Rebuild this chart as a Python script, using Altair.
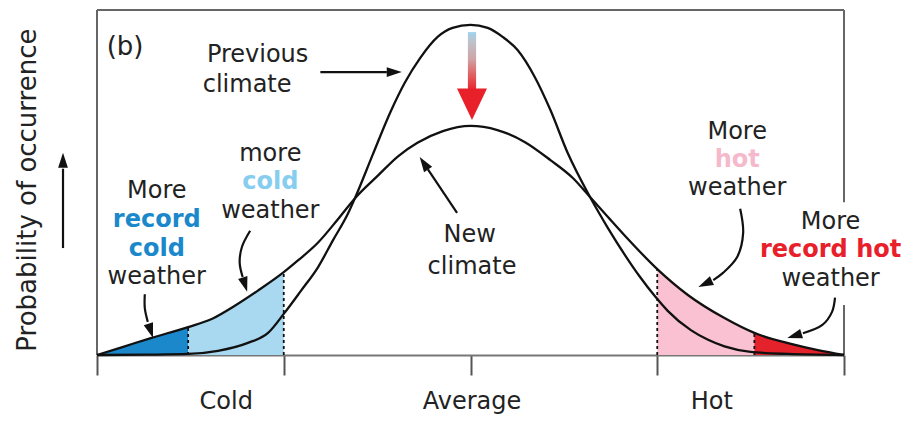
import altair as alt
import pandas as pd

# ---------------- data ----------------
# Previous climate (narrow, tall bell curve)
prev_x = [0, 6.8, 12.2, 16.2, 20.2, 22.9, 25.1, 27.3, 29.6, 31.6, 33.6, 34.6, 36.9,
          39.3, 41.2, 43.3, 45.6, 47.6, 50, 52.3, 54.3, 56.3, 58.6, 60.7, 63.0, 66.0,
          68.4, 70.7, 72.7, 74.7, 76.4, 79.5, 81.8, 84.0, 87.5, 92.5, 100]
prev_y = [0, 0.1, 0.3, 1.2, 3.5, 6.4, 12.2, 18.6, 25.5, 33.3, 41.0, 45.8, 58.0,
          70.5, 78.9, 86.2, 92.2, 94.8, 95.7, 94.8, 92.2, 88.4, 80.6, 71.0, 58.6, 45.8,
          36.8, 28.9, 22.6, 17.0, 12.8, 7.2, 4.4, 2.5, 0.9, 0.3, 0]

# New climate (wider, flatter bell curve)
new_x = [0, 3.4, 7.2, 12.2, 15.5, 18.4, 21.5, 25, 26.9, 29.6, 32.2, 34.6, 37.6, 40.3,
         42.9, 46.3, 50, 53.6, 57.3, 60.7, 63.7, 66.0, 68.4, 70.7, 75, 79.1, 84.0,
         88, 92.9, 96.5, 100]
new_y = [0, 2.3, 4.9, 8.1, 10.6, 14.2, 18.6, 24.0, 27.4, 32.6, 39.2, 45.6, 52.0, 57.6,
         61.5, 64.9, 66.4, 65.2, 61.7, 56.5, 51.3, 45.8, 40.0, 34.5, 24.9, 17.4, 10.7,
         6.4, 3.2, 1.4, 0]

tick_values = [0, 25, 50, 75, 100]
axis_labels = ["Cold", "Average", "Hot"]
axis_label_x = [17.3, 50.2, 82.3]
axis_label_y = [-13.6, -13.6, -13.6]

region_names = ["Record cold", "Cold", "Hot", "Record hot"]
region_start = [0, 12.2, 75, 88]
region_end = [12.2, 25, 88, 100]
region_colors = ["#1a88cb", "#a8d9f1", "#f9c1d2", "#e3222b"]

# annotation texts
ann_text = ["(b)", "Previous", "climate",
            "more", "cold", "weather",
            "More", "record", "cold", "weather",
            "New", "climate",
            "More", "hot", "weather",
            "More", "record hot", "weather"]
ann_x = [1.3, 21.5, 20.1,
         23.2, 23.2, 23.2,
         8.0, 8.0, 8.0, 8.0,
         49.9, 50.2,
         85.7, 85.7, 85.7,
         98.2, 98.2, 98.2]
ann_y = [89.3, 87.0, 78.3,
         58.4, 50.1, 41.6,
         47.4, 39.0, 30.8, 22.6,
         34.8, 25.5,
         64.6, 56.5, 48.4,
         38.6, 30.4, 22.1]
ann_color = ["#222222", "#222222", "#222222",
             "#222222", "#86cdef", "#222222",
             "#222222", "#1a88cb", "#1a88cb", "#222222",
             "#222222", "#222222",
             "#222222", "#f6b9cc", "#222222",
             "#222222", "#e8202a", "#222222"]
ann_bold = [False, False, False,
            False, True, False,
            False, True, True, False,
            False, False,
            False, True, False,
            False, True, False]
ann_align = ["left"] + ["center"] * 17

# black arrows (shafts) and their heads
arrow_id = ["prev", "prev",
            "rc", "rc", "rc",
            "mc", "mc", "mc", "mc",
            "new", "new",
            "hot", "hot", "hot", "hot", "hot",
            "rh", "rh", "rh", "rh",
            "yax", "yax"]
arrow_x = [29.9, 38.8,
           6.4, 6.4, 6.8,
           20.5, 19.4, 19.1, 19.5,
           48.2, 44.3,
           86.1, 86.5, 85.7, 83.8, 82.5,
           98.8, 98.4, 97.1, 94.5,
           -4.55, -4.55]
arrow_y = [82.0, 82.0,
           17.6, 13.6, 9.6,
           36.0, 31.3, 26.7, 22.6,
           41.2, 53.8,
           42.4, 35.4, 28.4, 23.8, 21.7,
           16.6, 12.5, 8.7, 6.3,
           31.0, 54.0]
head_x = [40.8, 7.5, 20.1, 43.2, 80.5, 92.4, -4.55]
head_y = [82.0, 4.9, 18.3, 57.4, 19.7, 4.9, 58.6]
head_angle = [90, 162, 163, 326, 245, 253, 0]

# big red arrow showing the drop in the peak
red_x = [49.65]
red_x2 = [50.75]
red_top = [93.6]
red_bottom = [76.5]
red_tip_x = [50.2]
red_tip_y = [68.1]

# frame of the plot (right side interrupted by the text)
frame_x = [0, 0, 100, 100]
frame_x2 = [100, 0, 100, 100]
frame_y = [100, 0, 44.3, 0]
frame_y2 = [100, 100, 100, 14.5]

# ---------------- tables ----------------
curves = pd.DataFrame({
    "x": prev_x + new_x,
    "y": prev_y + new_y,
    "climate": ["Previous"] * len(prev_x) + ["New"] * len(new_x),
})

rows = []
for name, a, b in zip(region_names, region_start, region_end):
    for xv, yv in zip(new_x, new_y):
        if a <= xv <= b:
            rows.append({"x": xv, "y": yv, "region": name})
areas_df = pd.DataFrame(rows)

thresholds = pd.DataFrame({
    "x": [12.2, 25, 75, 88],
    "y": [0, 0, 0, 0],
    "y2": [new_y[new_x.index(12.2)], new_y[new_x.index(25)],
           new_y[new_x.index(75)], new_y[new_x.index(88)]],
})

ann = pd.DataFrame({"text": ann_text, "x": ann_x, "y": ann_y, "color": ann_color,
                    "bold": ann_bold, "align": ann_align})
arrows = pd.DataFrame({"id": arrow_id, "x": arrow_x, "y": arrow_y,
                       "o": list(range(len(arrow_id)))})
heads = pd.DataFrame({"x": head_x, "y": head_y, "angle": head_angle})
red = pd.DataFrame({"x": red_x, "x2": red_x2, "y": red_top, "y2": red_bottom})
red_tip = pd.DataFrame({"x": red_tip_x, "y": red_tip_y})
frame = pd.DataFrame({"x": frame_x, "x2": frame_x2, "y": frame_y, "y2": frame_y2})
xlabels = pd.DataFrame({"text": axis_labels, "x": axis_label_x, "y": axis_label_y})
ytitle = pd.DataFrame({"text": ["Probability of occurrence"], "x": [-9.2], "y": [47.8]})

# ---------------- encodings ----------------
xs = alt.Scale(domain=[0, 100], nice=False, zero=False)
ys = alt.Scale(domain=[0, 100], nice=False, zero=False)
x_axis = alt.Axis(values=tick_values, labels=False, ticks=True, tickSize=20,
                  tickWidth=2, tickColor="#555555", domain=True, domainColor="#777777",
                  domainWidth=2, grid=False, title=None)


def X(f="x"):
    return alt.X(f"{f}:Q", scale=xs, axis=x_axis)


def Y(f="y"):
    return alt.Y(f"{f}:Q", scale=ys, axis=None, stack=None)


FONT = "DejaVu Sans"

frame_layer = alt.Chart(frame).mark_rule(color="#666666", strokeWidth=2).encode(
    x=X(), x2="x2:Q", y=Y(), y2="y2:Q")

area_layer = alt.Chart(areas_df).mark_area(interpolate="monotone", opacity=1).encode(
    x=X(), y=Y(),
    color=alt.Color("region:N", scale=alt.Scale(domain=region_names, range=region_colors),
                    legend=None))

thr_layer = alt.Chart(thresholds).mark_rule(color="#111111", strokeWidth=1.8,
                                            strokeDash=[3, 3]).encode(
    x=X(), y=Y(), y2="y2:Q")

curve_layer = alt.Chart(curves).mark_line(interpolate="monotone", color="#111111",
                                          strokeWidth=2.3).encode(
    x=X(), y=Y(), detail="climate:N")

grad = alt.LinearGradient(
    gradient="linear",
    stops=[alt.GradientStop(color="#9fd3ee", offset=0),
           alt.GradientStop(color="#bcc4cb", offset=0.15),
           alt.GradientStop(color="#cfa5a8", offset=0.45),
           alt.GradientStop(color="#e25a5c", offset=0.75),
           alt.GradientStop(color="#e8202a", offset=1)],
    x1=0, x2=0, y1=0, y2=1)

red_layer = alt.Chart(red).mark_rect(color=grad).encode(
    x=X(), x2="x2:Q", y=Y(), y2="y2:Q")

red_tip_layer = alt.Chart(red_tip).mark_point(
    shape="M0,0L-1,-2.1L1,-2.1Z", filled=True, size=900, color="#e8202a",
    opacity=1, strokeWidth=0).encode(x=X(), y=Y())

arrow_layer = alt.Chart(arrows).mark_line(interpolate="catmull-rom", color="#111111",
                                          strokeWidth=2.2).encode(
    x=X(), y=Y(), detail="id:N", order="o:Q")

head_layer = alt.Chart(heads).mark_point(
    shape="M0,0L-0.65,2L0.65,2Z", filled=True, size=225, color="#111111",
    opacity=1, strokeWidth=0).encode(
    x=X(), y=Y(), angle=alt.Angle("angle:Q", scale=None))

text_normal = alt.Chart(ann[~ann["bold"] & (ann["align"] == "center")]).mark_text(
    font=FONT, fontSize=24, align="center", baseline="middle").encode(
    x=X(), y=Y(), text="text:N", color=alt.Color("color:N", scale=None))

text_left = alt.Chart(ann[ann["align"] == "left"]).mark_text(
    font=FONT, fontSize=26, align="left", baseline="middle").encode(
    x=X(), y=Y(), text="text:N", color=alt.Color("color:N", scale=None))

text_bold = alt.Chart(ann[ann["bold"]]).mark_text(
    font=FONT, fontSize=24, fontWeight="bold", align="center", baseline="middle").encode(
    x=X(), y=Y(), text="text:N", color=alt.Color("color:N", scale=None))

xlabel_layer = alt.Chart(xlabels).mark_text(
    font=FONT, fontSize=24, align="center", baseline="middle", color="#222222").encode(
    x=X(), y=Y(), text="text:N")

ytitle_layer = alt.Chart(ytitle).mark_text(
    font=FONT, fontSize=26, align="center", baseline="middle", angle=270,
    color="#222222").encode(x=X(), y=Y(), text="text:N")

chart = alt.layer(
    area_layer, frame_layer, thr_layer, curve_layer, red_layer, red_tip_layer,
    arrow_layer, head_layer, text_normal, text_left, text_bold, xlabel_layer, ytitle_layer
).properties(
    width=747, height=345,
    autosize=alt.AutoSizeParams(type="none"),
    padding={"left": 89, "top": 2, "right": 60, "bottom": 60},
    background="white",
).configure_view(stroke=None)

chart.save("out.html", embed_options={"renderer": "svg", "actions": False})
